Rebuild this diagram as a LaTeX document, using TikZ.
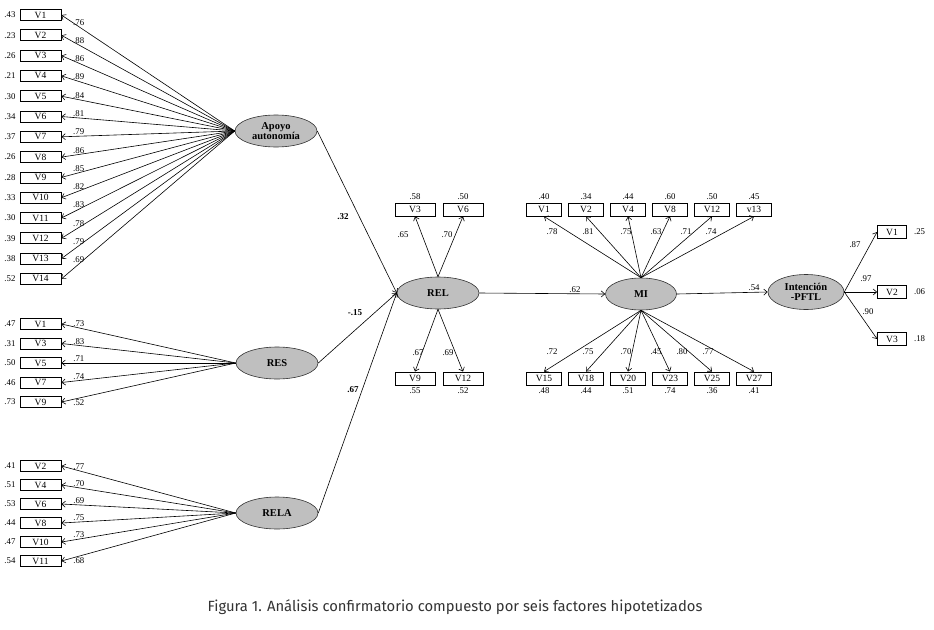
\documentclass[tikz,border=0pt]{standalone}
\usepackage{fontspec}
\setmainfont{Liberation Serif}
\newfontfamily\capfont{Fira Sans}
\usetikzlibrary{shapes.geometric,arrows.meta}

\begin{document}
\begin{tikzpicture}[x=1pt,y=-1pt,
    obs/.style={draw,line width=0.8pt,minimum width=41pt,minimum height=11pt,inner sep=0pt,font=\fontsize{9.5}{10}\selectfont},
    lat/.style={ellipse,draw=black!80,line width=0.6pt,fill=black!25,minimum width=82pt,minimum height=32pt,inner sep=0pt,align=center,font=\fontsize{10.5}{10.5}\selectfont\bfseries},
    num/.style={inner sep=1pt,font=\fontsize{8.8}{9}\selectfont},
    path/.style={-{Straight Barb[length=3.5pt,width=6pt]},line width=0.6pt}]
\useasboundingbox (0,0) rectangle (934,629);

% Apoyo autonomia
\node[lat] (apoyo) at (276,131) {Apoyo\\autonomía};
\foreach \r/\l [count=\k] in {.43/.76,.23/.88,.26/.86,.21/.89,.30/.84,.34/.81,.37/.79,.26/.86,.28/.85,.33/.82,.30/.83,.39/.78,.38/.79,.52/.69}{
    \node[obs] (ap\k) at (40.5,{15+20.3*(\k-1)}) {V\k};
    \node[num,left=3pt] at (ap\k.west) {\r};
    \draw[path] (apoyo.west) -- node[num,pos=0.9,anchor=south]{\l} (ap\k.east);
}

% RES
\node[lat] (res) at (277,363) {RES};
\foreach \t/\r/\l/\a [count=\k] in {V1/.47/.73/south,V3/.31/.83/south,V5/.50/.71/south,V7/.46/.74/south,V9/.73/.52/north}{
    \node[obs] (rs\k) at (40.5,{324+19.5*(\k-1)}) {\t};
    \node[num,left=3pt] at (rs\k.west) {\r};
    \draw[path] (res.west) -- node[num,pos=0.9,anchor=\a]{\l} (rs\k.east);
}

% RELA
\node[lat] (rela) at (277,513) {RELA};
\foreach \t/\r/\l/\a [count=\k] in {V2/.41/.77/south,V4/.51/.70/south,V6/.53/.69/south,V8/.44/.75/south,V10/.47/.73/south,V11/.54/.68/north}{
    \node[obs] (rl\k) at (40.5,{466+19*(\k-1)}) {\t};
    \node[num,left=3pt] at (rl\k.west) {\r};
    \draw[path] (rela.west) -- node[num,pos=0.9,anchor=\a]{\l} (rl\k.east);
}

% REL
\node[lat] (rel) at (438,293) {REL};
\node[obs,minimum width=40pt,minimum height=13pt] (r3) at (415,209.5) {V3};
\node[obs,minimum width=40pt,minimum height=13pt] (r6) at (463,209.5) {V6};
\node[obs,minimum width=40pt,minimum height=13pt] (r9) at (415,378.5) {V9};
\node[obs,minimum width=40pt,minimum height=13pt] (r12) at (463,378.5) {V12};
\node[num,above=2pt] at (r3.north) {.58};
\node[num,above=2pt] at (r6.north) {.50};
\node[num,below=1pt] at (r9.south) {.55};
\node[num,below=1pt] at (r12.south) {.52};
\draw[path] (rel.north) -- (r3.south);
\draw[path] (rel.north) -- (r6.south);
\draw[path] (rel.south) -- (r9.north);
\draw[path] (rel.south) -- (r12.north);
\node[num] at (403,235) {.65};
\node[num] at (447,235) {.70};
\node[num] at (418,353) {.67};
\node[num] at (448,353) {.69};

\draw[path] (apoyo.east) -- (rel.west);
\draw[path] (res.east) -- (rel.west);
\draw[path] (rela.east) -- (rel.west);
\node[num,font=\fontsize{9}{9}\selectfont\bfseries] at (343,217) {.32};
\node[num,font=\fontsize{9}{9}\selectfont\bfseries] at (355,313) {-.15};
\node[num,font=\fontsize{9}{9}\selectfont\bfseries] at (353,390) {.67};

% MI
\node[lat,minimum width=71pt] (mi) at (641,294) {MI};
\draw[path] (rel.east) -- node[num,pos=0.76,anchor=south]{.62} (mi.west);
\foreach \t/\r/\l/\lx [count=\k from 0] in {V1/.40/.78/552,V2/.34/.81/588,V4/.44/.75/626,V8/.60/.63/656,V12/.50/.71/686,v13/.45/.74/711}{
    \node[obs,minimum width=35pt,minimum height=13pt] (mt\k) at ({544+42*\k},209.5) {\t};
    \node[num,above=2pt] at (mt\k.north) {\r};
    \draw[path] (mi.north) -- (mt\k.south);
    \node[num] at (\lx,232) {\l};
}
\foreach \t/\r/\l/\lx [count=\k from 0] in {V15/.48/.72/552,V18/.44/.75/588,V20/.51/.70/626,V23/.74/.45/656,V25/.36/.80/682,V27/.41/.77/708}{
    \node[obs,minimum width=35pt,minimum height=13pt] (mb\k) at ({544+42*\k},378.5) {\t};
    \node[num,below=1pt] at (mb\k.south) {\r};
    \draw[path] (mi.south) -- (mb\k.north);
    \node[num] at (\lx,352) {\l};
}

% Intencion
\node[lat,minimum width=76pt,minimum height=35pt] (int) at (806,292) {Intención\\-PFTL};
\draw[path] (mi.east) -- node[num,pos=0.85,anchor=south]{.54} (int.west);
\node[obs,minimum width=29pt,minimum height=13pt] (i1) at (892,232) {V1};
\node[obs,minimum width=29pt,minimum height=13pt] (i2) at (892,292) {V2};
\node[obs,minimum width=29pt,minimum height=13pt] (i3) at (892,339) {V3};
\node[num,right=6pt] at (i1.east) {.25};
\node[num,right=6pt] at (i2.east) {.06};
\node[num,right=6pt] at (i3.east) {.18};
\draw[path] (int.east) -- (i1.west);
\draw[path] (int.east) -- (i2.west);
\draw[path] (int.east) -- (i3.west);
\node[num] at (855,245) {.87};
\node[num] at (866,279) {.97};
\node[num] at (868,312) {.90};

\node[text=black!80,font=\capfont\fontsize{14.8}{15}\selectfont] (cap) at (455,607) {Figura 1. Análisis confirmatorio compuesto por seis factores hipotetizados};
\end{tikzpicture}
\end{document}
